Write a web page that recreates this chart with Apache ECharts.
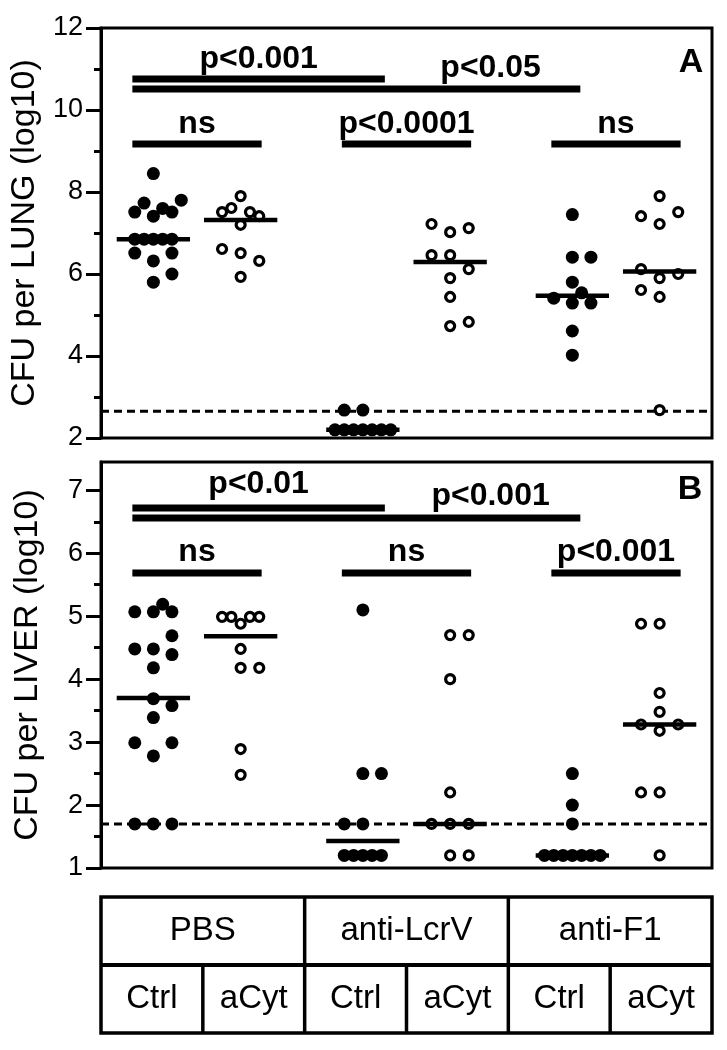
<!DOCTYPE html>
<html><head><meta charset="utf-8">
<script src="https://cdn.jsdelivr.net/npm/echarts@6/dist/echarts.min.js"></script>
<style>html,body{margin:0;padding:0;background:#fff}#c{width:727px;height:1050px}</style>
</head><body><div id="c"></div>
<script>
// ---------------- DATA ----------------
const treatments = ['PBS', 'anti-LcrV', 'anti-F1'];
const subgroups = ['Ctrl', 'aCyt'];
const lungTitle = 'CFU per LUNG (log10)';
const liverTitle = 'CFU per LIVER (log10)';
const lungTicks = [2, 4, 6, 8, 10, 12];
const liverTicks = [1, 2, 3, 4, 5, 6, 7];

// Panel A – log10 CFU per lung (group order: PBS Ctrl, PBS aCyt, LcrV Ctrl, LcrV aCyt, F1 Ctrl, F1 aCyt)
const lungPBSCtrl  = [8.45, 7.80, 7.73, 7.51, 7.60, 7.51, 7.41, 6.85, 6.85, 6.85, 6.85, 6.85, 6.51, 6.51, 6.32, 6.00, 5.80];
const lungPBSaCyt  = [7.90, 7.61, 7.51, 7.51, 7.41, 7.20, 6.61, 6.51, 6.32, 5.93];
const lungLcrVCtrl = [2.68, 2.68, 2.20, 2.20, 2.20, 2.20, 2.20, 2.20, 2.20];
const lungLcrVaCyt = [7.22, 7.02, 7.12, 6.46, 6.46, 6.12, 5.90, 5.44, 4.73, 4.83];
const lungF1Ctrl   = [7.45, 6.41, 6.41, 5.80, 5.54, 5.41, 5.29, 5.29, 4.61, 4.02];
const lungF1aCyt   = [7.90, 7.41, 7.51, 7.22, 6.12, 5.90, 6.00, 5.61, 5.44, 2.68];
const lungMedians  = [6.85, 7.32, 2.20, 6.29, 5.47, 6.06];
const lungLOD = 2.65;
// horizontal spread slot of each dot
const lungPBSCtrlSlot  = [0, 3, -1, -2, 1, 2, 0, -2, -1, 0, 1, 2, -2, 2, 0, 2, 0];
const lungPBSaCytSlot  = [0, -1, -2, 1, 2, 0, -2, 0, 2, 0];
const lungLcrVCtrlSlot = [-2, 0, -3, -2, -1, 0, 1, 2, 3];
const lungLcrVaCytSlot = [-2, 0, 2, -2, 0, 2, 0, 0, 0, 2];
const lungF1CtrlSlot   = [0, 0, 2, 0, 1, -2, 0, 2, 0, 0];
const lungF1aCytSlot   = [0, -2, 2, 0, -2, 0, 2, -2, 0, 0];
const lungBrackets = [['p<0.001', 0, 2], ['p<0.05', 0, 4], ['ns', 0, 1], ['p<0.0001', 2, 3], ['ns', 4, 5]];

// Panel B – log10 CFU per liver
const liverPBSCtrl  = [5.07, 5.07, 5.19, 5.07, 4.69, 4.48, 4.48, 4.39, 4.18, 3.69, 3.58, 3.39, 2.99, 2.99, 2.78, 1.70, 1.70, 1.70];
const liverPBSaCyt  = [4.99, 4.99, 4.88, 4.99, 4.99, 4.48, 4.18, 4.18, 2.89, 2.48];
const liverLcrVCtrl = [5.10, 2.50, 2.50, 1.70, 1.70, 1.20, 1.20, 1.20, 1.20, 1.20];
const liverLcrVaCyt = [4.70, 4.70, 4.00, 2.20, 1.70, 1.70, 1.70, 1.20, 1.20];
const liverF1Ctrl   = [2.50, 2.00, 1.70, 1.20, 1.20, 1.20, 1.20, 1.20, 1.20, 1.20];
const liverF1aCyt   = [4.88, 4.88, 3.78, 3.48, 3.28, 3.28, 3.18, 2.20, 2.20, 1.20];
const liverMedians  = [3.70, 4.68, 1.43, 1.70, 1.20, 3.28];
const liverLOD = 1.70;
const liverPBSCtrlSlot  = [-2, 0, 1, 2, 2, -2, 0, 2, 0, 0, 2, 0, -2, 2, 0, -2, 0, 2];
const liverPBSaCytSlot  = [-2, -1, 0, 1, 2, 0, 0, 2, 0, 0];
const liverLcrVCtrlSlot = [0, 0, 2, -2, 0, -2, -1, 0, 1, 2];
const liverLcrVaCytSlot = [0, 2, 0, 0, -2, 0, 2, 0, 2];
const liverF1CtrlSlot   = [0, 0, 0, -3, -2, -1, 0, 1, 2, 3];
const liverF1aCytSlot   = [-2, 0, 0, 0, -2, 2, 0, -2, 0, 0];
const liverBrackets = [['p<0.01', 0, 2], ['p<0.001', 0, 4], ['ns', 0, 1], ['ns', 2, 3], ['p<0.001', 4, 5]];

// ---------------- LAYOUT ----------------
const FONT = '"Liberation Sans", Arial, sans-serif';
const gridA = {left: 101, top: 28, width: 611, height: 410};
const gridB = {left: 101, top: 462, width: 611, height: 406};
const XMAX = 7;
const groupX = [0.6, 1.6, 3.0, 4.0, 5.4, 6.4];
const SLOT = 0.1065;
const MED_HALF = 0.42;

function pts(vals, slots, g) { return vals.map((v, i) => [groupX[g] + slots[i] * SLOT, v]); }

const lungGroups = [[lungPBSCtrl, lungPBSCtrlSlot], [lungPBSaCyt, lungPBSaCytSlot], [lungLcrVCtrl, lungLcrVCtrlSlot],
                    [lungLcrVaCyt, lungLcrVaCytSlot], [lungF1Ctrl, lungF1CtrlSlot], [lungF1aCyt, lungF1aCytSlot]];
const liverGroups = [[liverPBSCtrl, liverPBSCtrlSlot], [liverPBSaCyt, liverPBSaCytSlot], [liverLcrVCtrl, liverLcrVCtrlSlot],
                     [liverLcrVaCyt, liverLcrVaCytSlot], [liverF1Ctrl, liverF1CtrlSlot], [liverF1aCyt, liverF1aCytSlot]];

function panelSeries(groups, medians, lod, xi, yi) {
  const filled = [], open = [];
  groups.forEach((g, i) => { (i % 2 === 0 ? filled : open).push(...pts(g[0], g[1], i)); });
  return [
    {type: 'line', xAxisIndex: xi, yAxisIndex: yi, data: [[0, lod], [XMAX, lod]], symbol: 'none', silent: true,
     lineStyle: {color: '#000', width: 3, type: [8, 5], opacity: 1}, z: 2},
    {type: 'scatter', xAxisIndex: xi, yAxisIndex: yi, data: filled, symbol: 'circle', symbolSize: 13,
     itemStyle: {color: '#000', opacity: 1}, z: 3},
    {type: 'scatter', xAxisIndex: xi, yAxisIndex: yi, data: open, symbol: 'circle', symbolSize: 9,
     itemStyle: {color: '#fff', borderColor: '#000', borderWidth: 3.2, opacity: 1}, z: 3},
    {type: 'custom', xAxisIndex: xi, yAxisIndex: yi, z: 4,
     data: medians.map((m, i) => [groupX[i], m]),
     renderItem: (p, api) => {
       const x = api.value(0), y = api.value(1);
       const a = api.coord([x - MED_HALF, y]), b = api.coord([x + MED_HALF, y]);
       return {type: 'line', shape: {x1: a[0], y1: a[1], x2: b[0], y2: b[1]}, style: {stroke: '#000', lineWidth: 4.5}};
     }}
  ];
}

function yAxes(gi, min, max, majors, minors, name) {
  return [
    {type: 'value', gridIndex: gi, position: 'left', min: min, max: max, name: name, nameLocation: 'middle', nameGap: 56,
     nameTextStyle: {fontSize: 34, color: '#000', fontFamily: FONT},
     axisLine: {show: true, lineStyle: {color: '#000', width: 3}},
     axisTick: {show: true, length: 15, lineStyle: {color: '#000', width: 3}, customValues: majors},
     axisLabel: {show: true, fontSize: 27, color: '#000', fontFamily: FONT, margin: 18, customValues: majors},
     splitLine: {show: false}},
    {type: 'value', gridIndex: gi, position: 'left', offset: 0, min: min, max: max,
     axisLine: {show: false},
     axisTick: {show: true, length: 7, lineStyle: {color: '#000', width: 3}, customValues: minors},
     axisLabel: {show: false}, splitLine: {show: false}}
  ];
}
const lungMinors = [3, 5, 7, 9, 11];
const liverMinors = [1.5, 2.5, 3.5, 4.5, 5.5, 6.5];

const chart = echarts.init(document.getElementById('c'), null, {renderer: 'canvas'});
const gridStyle = {show: true, borderColor: '#000', borderWidth: 3, backgroundColor: 'transparent'};
chart.setOption({
  animation: false,
  backgroundColor: '#fff',
  grid: [Object.assign({}, gridA, gridStyle), Object.assign({}, gridB, gridStyle)],
  xAxis: [
    {type: 'value', gridIndex: 0, min: 0, max: XMAX, show: false},
    {type: 'value', gridIndex: 1, min: 0, max: XMAX, show: false}
  ],
  yAxis: [].concat(yAxes(0, 2, 12, lungTicks, lungMinors, lungTitle),
                   yAxes(1, 1, 7.45, liverTicks, liverMinors, liverTitle)),
  series: [].concat(panelSeries(lungGroups, lungMedians, lungLOD, 0, 0),
                    panelSeries(liverGroups, liverMedians, liverLOD, 1, 2))
});

// ---------------- ANNOTATIONS (brackets, panel letters, group table) ----------------
function px(x) { return gridA.left + x / XMAX * gridA.width; }
const graphics = [];
function bar(x1, x2, y) { graphics.push({type: 'line', shape: {x1: x1, y1: y, x2: x2, y2: y}, style: {stroke: '#000', lineWidth: 7}, z: 10}); }
function txt(t, x, y, font) {
  graphics.push({type: 'text', x: x, y: y, style: {text: t, font: font, fill: '#000', align: 'center', verticalAlign: 'middle'}, z: 10});
}
const BOLD = 'bold 32px ' + FONT;
function brackets(list, grid, lay) {
  list.forEach((b, k) => {
    const x1 = px(groupX[b[1]]) - 21;
    let x2, yb, yt, xc;
    if (k === 0) { x2 = px(groupX[b[2]]) + 22; yb = lay[0]; yt = lay[3]; xc = (x1 + x2) / 2; }
    else if (k === 1) { x2 = px(groupX[b[2]]) + 8; yb = lay[1]; yt = lay[4]; xc = (px(groupX[2]) + 22 + x2) / 2 + 8; }
    else { x2 = px(groupX[b[2]]) + 21; yb = lay[2]; yt = lay[5]; xc = (x1 + x2) / 2; }
    bar(x1, x2, grid.top + yb);
    txt(b[0], xc, grid.top + yt, BOLD);
  });
}
brackets(lungBrackets, gridA, [51, 61, 116, 31, 40, 96]);
brackets(liverBrackets, gridB, [46, 56, 111, 22, 34, 90]);
txt('A', 691, gridA.top + 35, 'bold 34px ' + FONT);
txt('B', 690, gridB.top + 28, 'bold 34px ' + FONT);

// group table
const tL = gridB.left, tR = gridB.left + gridB.width, tT = 897, tM = 965, tB = 1033;
graphics.push({type: 'rect', shape: {x: tL, y: tT, width: tR - tL, height: tB - tT}, style: {fill: 'none', stroke: '#000', lineWidth: 3.5}, z: 10});
graphics.push({type: 'line', shape: {x1: tL, y1: tM, x2: tR, y2: tM}, style: {stroke: '#000', lineWidth: 4}, z: 10});
const colW = (tR - tL) / treatments.length;
treatments.forEach((t, i) => {
  const x0 = tL + i * colW;
  if (i > 0) graphics.push({type: 'line', shape: {x1: x0, y1: tT, x2: x0, y2: tB}, style: {stroke: '#000', lineWidth: 3.5}, z: 10});
  txt(t, x0 + colW / 2, (tT + tM) / 2, '33px ' + FONT);
  subgroups.forEach((s, j) => {
    const sx = x0 + j * colW / 2;
    if (j > 0) graphics.push({type: 'line', shape: {x1: sx, y1: tM, x2: sx, y2: tB}, style: {stroke: '#000', lineWidth: 3.5}, z: 10});
    txt(s, sx + colW / 4, (tM + tB) / 2, '33px ' + FONT);
  });
});
chart.setOption({graphic: {elements: graphics}});
</script>
</body></html>
